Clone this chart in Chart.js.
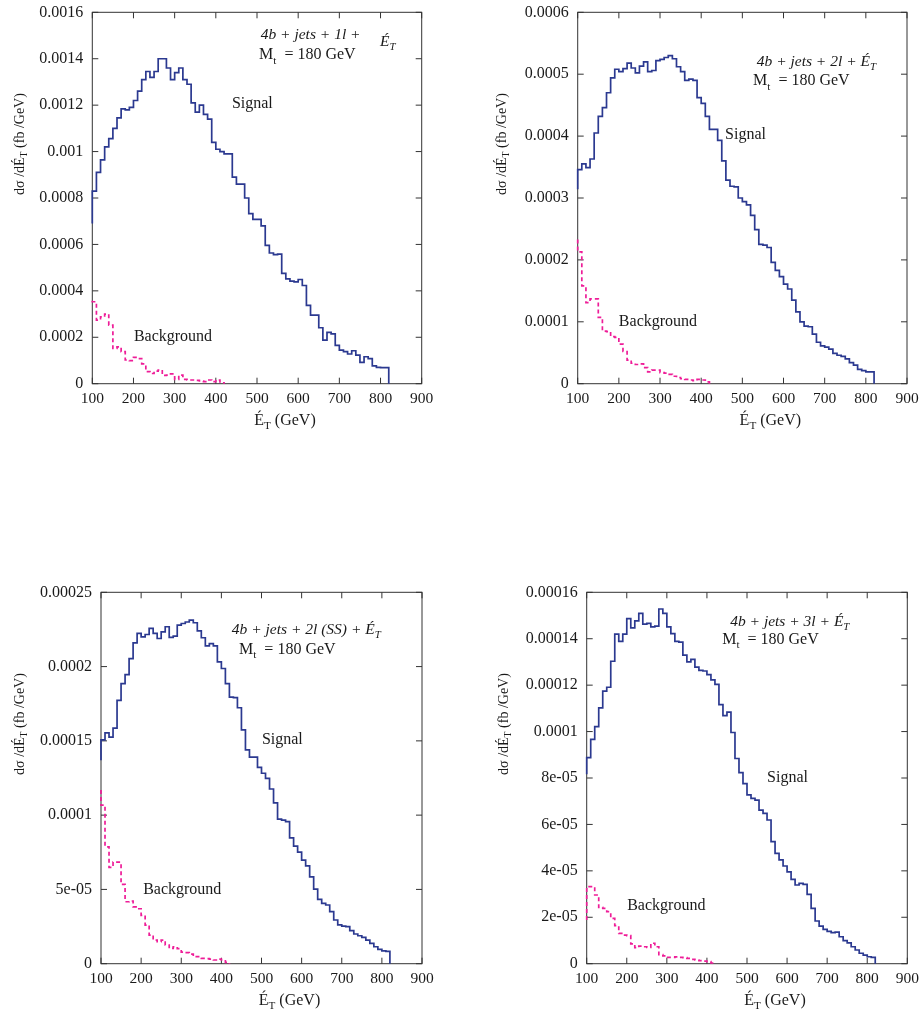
<!DOCTYPE html>
<html>
<head>
<meta charset="utf-8">
<script src="https://cdn.jsdelivr.net/npm/chart.js@4.4.0/dist/chart.umd.min.js"></script>
<style>
  body { margin: 0; background: #fff; }
  #wrap { position: relative; width: 923px; height: 1017px; }
  canvas { position: absolute; }
</style>
</head>
<body>
<div id="wrap">
  <canvas id="c1" width="440" height="440" style="left:0px;top:0px"></canvas>
  <canvas id="c2" width="443" height="440" style="left:480px;top:0px"></canvas>
  <canvas id="c3" width="440" height="437" style="left:0px;top:580px"></canvas>
  <canvas id="c4" width="443" height="437" style="left:480px;top:580px"></canvas>
</div>
<script>
// missing-ET histograms, 10 GeV bins starting at 100 GeV
const binStart = 100;
const binWidth = 10;

const xTicks = [100, 200, 300, 400, 500, 600, 700, 800, 900];
const xLabels = ['100', '200', '300', '400', '500', '600', '700', '800', '900'];

// 4b + jets + 1l
const sig1Start = 0.00069;
const sig1 = [0.00083, 0.00091, 0.000964, 0.00102, 0.001056, 0.0011, 0.001145, 0.001184, 0.00118, 0.00119,
  0.00122, 0.00126, 0.00131, 0.001345, 0.00132, 0.001345, 0.0014, 0.0014, 0.00136, 0.00131,
  0.00134, 0.00136, 0.00131, 0.00129, 0.00121, 0.00117, 0.0012, 0.00116, 0.00114, 0.00104,
  0.00101, 0.001, 0.00099, 0.00099, 0.00089, 0.00086, 0.00086, 0.0008,
  0.000733, 0.000708, 0.000708, 0.00068, 0.000596, 0.000563, 0.000556, 0.000558, 0.000475, 0.000452,
  0.000442, 0.000439, 0.000449, 0.000423, 0.000337, 0.000295, 0.000295, 0.000241, 0.000188, 0.000221,
  0.000215, 0.000165, 0.000145, 0.000138, 0.000128, 0.000142, 0.000123, 0.000092, 0.000116, 0.000108,
  0.000077, 0.00007, 0.000069, 0.000069];
const bkg1Start = 0.000357;
const bkg1 = [0.000353, 0.000274, 0.000288, 0.0003, 0.000252, 0.000152, 0.000159, 0.000138, 0.000102, 0.000099,
  0.000113, 0.000108, 0.000085, 0.000052, 0.000044, 0.000054, 0.000059, 0.000036, 0.000037, 0.000042,
  0.000019, 0.000037, 0.000019, 0.000016, 0.000016, 0.000014, 0.000012, 0.000009, 0.000016, 0.000009,
  0.000016, 0.000004];
const yTicks1 = [0, 0.0002, 0.0004, 0.0006, 0.0008, 0.001, 0.0012, 0.0014, 0.0016];
const yLabels1 = ['0', '0.0002', '0.0004', '0.0006', '0.0008', '0.001', '0.0012', '0.0014', '0.0016'];

// 4b + jets + 2l
const sig2Start = 0.000314;
const sig2 = [0.000346, 0.000355, 0.000349, 0.000363, 0.000405, 0.000432, 0.000446, 0.00047, 0.000494, 0.000508,
  0.000504, 0.000509, 0.000518, 0.00051, 0.000502, 0.000513, 0.00052, 0.000504, 0.000506, 0.000522,
  0.000524, 0.000527, 0.00053, 0.000525, 0.000512, 0.000504, 0.00049, 0.000492, 0.00049, 0.000462,
  0.000453, 0.000432, 0.000411, 0.000411, 0.000393, 0.00036, 0.000329, 0.000319, 0.000318, 0.0003,
  0.000294, 0.000289, 0.000272, 0.000249, 0.000225, 0.000224, 0.00022, 0.000196, 0.000183, 0.000173,
  0.000161, 0.000153, 0.000135, 0.000116, 0.0001, 0.000093, 0.000092, 0.00008, 0.000067, 0.000061,
  0.000059, 0.000056, 0.000049, 0.000046, 0.000044, 0.00004, 0.000034, 0.00003, 0.000023, 0.000021,
  0.000019, 0.000019];
const bkg2Start = 0.000233;
const bkg2 = [0.000213, 0.000158, 0.000131, 0.000137, 0.000137, 0.000107, 0.000085, 0.000084, 0.000076, 0.000075,
  0.000064, 0.000052, 0.000038, 0.000033, 0.000031, 0.000032, 0.000026, 0.000019, 0.000022, 0.000022,
  0.000018, 0.000017, 0.000015, 0.000012, 0.00001, 0.000008, 0.000007, 0.000006, 0.000005, 0.000007,
  0.000006, 0.000003];
const yTicks2 = [0, 0.0001, 0.0002, 0.0003, 0.0004, 0.0005, 0.0006];
const yLabels2 = ['0', '0.0001', '0.0002', '0.0003', '0.0004', '0.0005', '0.0006'];

// 4b + jets + 2l (SS)
const sig3Start = 0.000137;
const sig3 = [0.0001507, 0.0001554, 0.0001525, 0.0001586, 0.0001773, 0.0001885, 0.0001946, 0.0002054, 0.000216, 0.0002223,
  0.00022, 0.0002216, 0.0002257, 0.0002223, 0.0002189, 0.0002234, 0.0002268, 0.0002196, 0.0002205, 0.0002279,
  0.000229, 0.00023, 0.0002313, 0.0002295, 0.0002241, 0.0002194, 0.000214, 0.0002155, 0.000214, 0.0002032,
  0.0001987, 0.0001885, 0.0001795, 0.0001791, 0.0001723, 0.0001574, 0.0001439, 0.000139, 0.000139, 0.0001322,
  0.0001282, 0.0001248, 0.0001176,
  0.0001083, 0.0000973, 0.0000966, 0.0000957, 0.0000847, 0.0000791, 0.0000751, 0.0000697, 0.0000659, 0.0000585,
  0.0000502, 0.0000433, 0.0000406, 0.0000395, 0.000035, 0.0000294, 0.0000262, 0.0000253, 0.0000249, 0.0000222,
  0.00002, 0.0000188, 0.0000177, 0.0000159, 0.0000137, 0.0000114, 0.0000096, 0.0000087, 0.0000083];
const bkg3Start = 0.000117;
const bkg3 = [0.0001067, 0.0000787, 0.0000648, 0.0000684, 0.0000684, 0.0000534, 0.0000417, 0.0000422, 0.0000383, 0.000037,
  0.0000325, 0.000026, 0.0000193, 0.0000159, 0.0000148, 0.0000159, 0.0000126, 0.0000103, 0.0000114, 0.0000101,
  0.0000078, 0.0000074, 0.0000065, 0.0000047, 0.0000047, 0.0000036, 0.0000034, 0.0000031, 0.0000025, 0.0000031,
  0.0000025, 0.0000009];
const yTicks3 = [0, 0.00005, 0.0001, 0.00015, 0.0002, 0.00025];
const yLabels3 = ['0', '5e-05', '0.0001', '0.00015', '0.0002', '0.00025'];

// 4b + jets + 3l
const sig4Start = 0.0000816;
const sig4 = [0.0000888, 0.0000966, 0.0001021, 0.0001102, 0.0001174, 0.0001191, 0.0001303, 0.000142, 0.0001389, 0.000142,
  0.0001487, 0.0001447, 0.0001477, 0.0001509, 0.0001463, 0.0001466, 0.0001451, 0.0001454, 0.0001528, 0.0001509,
  0.0001451, 0.0001422, 0.0001389, 0.0001385, 0.0001329, 0.00013, 0.0001311, 0.0001278, 0.0001264, 0.0001261,
  0.0001245, 0.0001223, 0.0001203, 0.0001116, 0.0001069, 0.0001084, 0.0000996, 0.0000884, 0.0000823, 0.0000776,
  0.0000727, 0.0000712, 0.0000705, 0.0000662, 0.0000648, 0.0000619, 0.0000526, 0.0000475, 0.0000447, 0.0000421,
  0.0000396, 0.0000363, 0.0000339, 0.0000346, 0.0000342, 0.0000299, 0.0000238, 0.0000184, 0.0000162, 0.0000148,
  0.0000139, 0.0000134, 0.0000136, 0.0000116, 0.0000099, 0.000009, 0.0000073, 0.0000059, 0.0000045, 0.0000037,
  0.000003, 0.0000027];
const bkg4Start = 0.0000188;
const bkg4 = [0.0000332, 0.0000332, 0.0000296, 0.0000243, 0.0000238, 0.0000224, 0.0000195, 0.0000164, 0.0000131, 0.0000123,
  0.0000121, 0.0000085, 0.0000069, 0.0000076, 0.0000073, 0.000007, 0.0000088, 0.0000073, 0.0000039, 0.0000034,
  0.0000027, 0.0000027, 0.0000029, 0.0000027, 0.0000026, 0.0000023, 0.0000019, 0.0000016, 0.0000013, 0.0000011,
  0.0000009, 0.0000003];
const yTicks4 = [0, 0.00002, 0.00004, 0.00006, 0.00008, 0.0001, 0.00012, 0.00014, 0.00016];
const yLabels4 = ['0', '2e-05', '4e-05', '6e-05', '8e-05', '0.0001', '0.00012', '0.00014', '0.00016'];

const channels = ['4b + jets + 1l +     ', '4b + jets + 2l + ', '4b + jets + 2l (SS) + ', '4b + jets + 3l + '];

const FONT = '"Liberation Serif", "Times New Roman", serif';
const INK = '#1a1a1a';
const SIG_COLOR = '#2b3990';
const BKG_COLOR = '#ee1d98';

// turn bin contents into step-line vertices (left edges, closing drop to zero)
function histPoints(start, values) {
  const pts = [{ x: binStart, y: start }];
  values.forEach((v, i) => pts.push({ x: binStart + i * binWidth, y: v }));
  pts.push({ x: binStart + values.length * binWidth, y: 0 });
  return pts;
}

// draw a run of text pieces; sub pieces are smaller and lowered
function richWidth(ctx, parts, size) {
  let w = 0;
  parts.forEach(p => {
    ctx.font = (p.italic ? 'italic ' : '') + (p.sub ? size * 0.7 : size) + 'px ' + FONT;
    w += ctx.measureText(p.t).width;
  });
  return w;
}
function drawRich(ctx, x, y, parts, size) {
  let cx = x;
  ctx.textBaseline = 'middle';
  ctx.textAlign = 'left';
  parts.forEach(p => {
    const fs = p.sub ? size * 0.7 : size;
    ctx.font = (p.italic ? 'italic ' : '') + fs + 'px ' + FONT;
    const dy = (p.sub ? size * 0.35 : 0) + (p.dy || 0);
    ctx.fillText(p.t, cx, y + dy);
    cx += ctx.measureText(p.t).width;
  });
}

// box with inward ticks on all four sides
const framePlugin = {
  id: 'frame',
  beforeDatasetsDraw(chart) {
    const { ctx, chartArea: a, scales } = chart;
    ctx.save();
    ctx.strokeStyle = '#333';
    ctx.lineWidth = 1;
    ctx.strokeRect(a.left, a.top, a.right - a.left, a.bottom - a.top);
    const tl = 6;
    ctx.beginPath();
    scales.x.ticks.forEach(t => {
      const px = scales.x.getPixelForValue(t.value);
      ctx.moveTo(px, a.bottom); ctx.lineTo(px, a.bottom - tl);
      ctx.moveTo(px, a.top); ctx.lineTo(px, a.top + tl);
    });
    scales.y.ticks.forEach(t => {
      const py = scales.y.getPixelForValue(t.value);
      ctx.moveTo(a.left, py); ctx.lineTo(a.left + tl, py);
      ctx.moveTo(a.right, py); ctx.lineTo(a.right - tl, py);
    });
    ctx.stroke();
    ctx.restore();
  }
};

// labels, axis titles with subscripts
const textPlugin = {
  id: 'texts',
  afterDraw(chart) {
    const o = chart.options.plugins.texts;
    const { ctx, chartArea: a, scales } = chart;
    const X = v => scales.x.getPixelForValue(v);
    const Y = v => scales.y.getPixelForValue(v);
    ctx.save();
    ctx.fillStyle = INK;

    drawRich(ctx, X(o.channelAt[0]), Y(o.channelAt[1]), [
      { t: o.channel, italic: true },
      { t: 'É', italic: true, dy: o.eDrop },
      { t: 'T', italic: true, sub: true, dy: o.eDrop }
    ], 15.5);
    drawRich(ctx, X(o.massAt[0]), Y(o.massAt[1]), [
      { t: 'M' }, { t: 't', sub: true }, { t: '  = 180 GeV' }
    ], 16);
    drawRich(ctx, X(o.signalAt[0]), Y(o.signalAt[1]), [{ t: 'Signal' }], 16);
    drawRich(ctx, X(o.bkgAt[0]), Y(o.bkgAt[1]), [{ t: 'Background' }], 16);

    // x title
    const xParts = [{ t: 'É' }, { t: 'T', sub: true }, { t: ' (GeV)' }];
    const xw = richWidth(ctx, xParts, 16);
    drawRich(ctx, (a.left + a.right) / 2 + o.xTitleShift - xw / 2, a.bottom + 37, xParts, 16);

    // y title, rotated
    const yParts = [{ t: 'dσ /dÉ' }, { t: 'T', sub: true }, { t: ' (fb /GeV)' }];
    const yw = richWidth(ctx, yParts, 14);
    ctx.translate(o.yTitleX, (a.top + a.bottom) / 2 - 54);
    ctx.rotate(-Math.PI / 2);
    drawRich(ctx, -yw / 2, 0, yParts, 14);
    ctx.restore();
  }
};

function makeChart(id, box, sig, sigStart, bkg, bkgStart, yTicks, yLabels, texts) {
  const el = document.getElementById(id);
  return new Chart(el, {
    type: 'line',
    data: {
      datasets: [
        {
          label: 'Signal',
          data: histPoints(sigStart, sig),
          borderColor: SIG_COLOR,
          borderWidth: 1.7,
          stepped: 'before',
          pointRadius: 0,
          clip: false
        },
        {
          label: 'Background',
          data: histPoints(bkgStart, bkg),
          borderColor: BKG_COLOR,
          borderWidth: 1.7,
          borderDash: [4, 3],
          stepped: 'before',
          pointRadius: 0,
          clip: false
        }
      ]
    },
    options: {
      responsive: false,
      animation: false,
      devicePixelRatio: 1,
      layout: {
        padding: { left: 0, top: box.top, right: el.width - box.right, bottom: 0 }
      },
      plugins: {
        legend: { display: false },
        tooltip: { enabled: false },
        texts: texts
      },
      scales: {
        x: {
          type: 'linear',
          min: 100,
          max: 900,
          grid: { display: false },
          border: { display: false },
          afterBuildTicks: s => { s.ticks = xTicks.map(v => ({ value: v })); },
          afterFit: s => { s.height = el.height - box.bottom; },
          ticks: {
            padding: -2,
            maxRotation: 0,
            color: INK,
            font: { family: FONT, size: 15.5 },
            callback: (v, i) => xLabels[i]
          }
        },
        y: {
          type: 'linear',
          min: 0,
          max: yTicks[yTicks.length - 1],
          grid: { display: false },
          border: { display: false },
          afterBuildTicks: s => { s.ticks = yTicks.map(v => ({ value: v })); },
          afterFit: s => { s.width = box.left; },
          ticks: {
            padding: 1,
            color: INK,
            font: { family: FONT, size: 16 },
            callback: (v, i) => yLabels[i]
          }
        }
      }
    },
    plugins: [framePlugin, textPlugin]
  });
}

makeChart('c1', { left: 92.3, right: 421.7, top: 12.3, bottom: 383.7 },
  sig1, sig1Start, bkg1, bkg1Start, yTicks1, yLabels1, {
    channel: channels[0], eDrop: 7, channelAt: [509, 0.001502], massAt: [505, 0.001416],
    signalAt: [439, 0.001205], bkgAt: [201, 0.000201], xTitleShift: 28, yTitleX: 20
  });
makeChart('c2', { left: 97.7, right: 427, top: 12.3, bottom: 383.7 },
  sig2, sig2Start, bkg2, bkg2Start, yTicks2, yLabels2, {
    channel: channels[1], eDrop: 0, channelAt: [535, 0.00052], massAt: [526, 0.000489],
    signalAt: [458, 0.000402], bkgAt: [200, 0.0000997], xTitleShift: 28, yTitleX: 22
  });
makeChart('c3', { left: 101, right: 422, top: 12.3, bottom: 383.7 },
  sig3, sig3Start, bkg3, bkg3Start, yTicks3, yLabels3, {
    channel: channels[2], eDrop: 0, channelAt: [426, 0.0002246], massAt: [444, 0.0002112],
    signalAt: [501, 0.0001506], bkgAt: [205, 0.0000496], xTitleShift: 28, yTitleX: 20
  });
makeChart('c4', { left: 106.7, right: 427.3, top: 12.3, bottom: 383.7 },
  sig4, sig4Start, bkg4, bkg4Start, yTicks4, yLabels4, {
    channel: channels[3], eDrop: 0, channelAt: [458, 0.0001472], massAt: [438, 0.0001395],
    signalAt: [550, 0.00008], bkgAt: [201, 0.0000249], xTitleShift: 28, yTitleX: 24
  });
</script>
</body>
</html>
